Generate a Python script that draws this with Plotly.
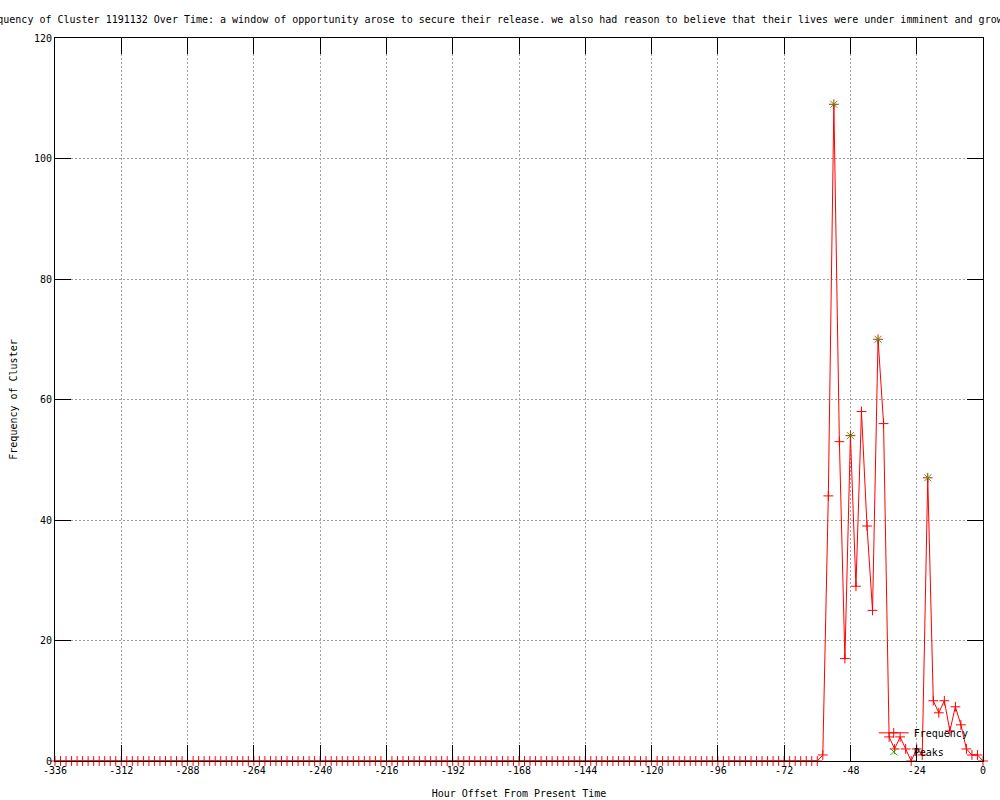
import plotly.graph_objects as go

# ---- data ----
hours = list(range(-336, 2, 2))  # sampling every 2 hours, -336 .. 0

freq = [
    0, 0, 0, 0, 0, 0, 0, 0, 0, 0, 0, 0, 0, 0, 0, 0, 0, 0, 0, 0,
    0, 0, 0, 0, 0, 0, 0, 0, 0, 0, 0, 0, 0, 0, 0, 0, 0, 0, 0, 0,
    0, 0, 0, 0, 0, 0, 0, 0, 0, 0, 0, 0, 0, 0, 0, 0, 0, 0, 0, 0,
    0, 0, 0, 0, 0, 0, 0, 0, 0, 0, 0, 0, 0, 0, 0, 0, 0, 0, 0, 0,
    0, 0, 0, 0, 0, 0, 0, 0, 0, 0, 0, 0, 0, 0, 0, 0, 0, 0, 0, 0,
    0, 0, 0, 0, 0, 0, 0, 0, 0, 0, 0, 0, 0, 0, 0, 0, 0, 0, 0, 0,
    0, 0, 0, 0, 0, 0, 0, 0, 0, 0, 0, 0, 0, 0, 0, 0, 0, 0, 0,
    # -58 .. 0
    1, 44, 109, 53, 17, 54, 29, 58, 39, 25, 70, 56, 4, 2, 4, 2, 0, 2, 1, 47,
    10, 8, 10, 5, 9, 6, 2, 1, 1, 0,
]

peak_hours = [-54, -48, -38, -20]
peak_values = [109, 54, 70, 47]

x_tick_vals = [-336, -312, -288, -264, -240, -216, -192, -168, -144, -120, -96, -72, -48, -24, 0]
x_tick_labels = ["-336", "-312", "-288", "-264", "-240", "-216", "-192", "-168", "-144",
                 "-120", "-96", "-72", "-48", "-24", "0"]
y_tick_vals = [0, 20, 40, 60, 80, 100, 120]

title_text = ("Frequency of Cluster 1191132 Over Time: a window of opportunity arose to secure "
              "their release. we also had reason to believe that their lives were under imminent and growing")

FONT = "DejaVu Sans Mono"
RED = "#ff0000"
GREEN = "#00c000"

fig = go.Figure()
fig.add_trace(go.Scatter(
    x=hours, y=freq, mode="lines+markers", name="Frequency",
    line=dict(color=RED, width=1),
    marker=dict(symbol="cross-thin", size=7, line=dict(color=RED, width=1), color=RED),
    cliponaxis=False,
))
fig.add_trace(go.Scatter(
    x=peak_hours, y=peak_values, mode="markers", name="Peaks",
    marker=dict(symbol="x-thin", size=7, line=dict(color=GREEN, width=1), color=GREEN),
    cliponaxis=False,
))

axis_common = dict(
    showline=True, linecolor="black", linewidth=1, mirror="ticks",
    ticks="inside", ticklen=16, tickwidth=1, tickcolor="black",
    showgrid=True, gridcolor="#a0a0a0", gridwidth=1, griddash="2px,2px",
    zeroline=False,
    tickfont=dict(family=FONT, size=10, color="black"),
    title_font=dict(family=FONT, size=10, color="black"),
)

fig.update_xaxes(
    range=[-336, 0], tickmode="array", tickvals=x_tick_vals, ticktext=x_tick_labels,
    title_text="Hour Offset From Present Time", title_standoff=14,
    **axis_common,
)
fig.update_yaxes(
    range=[0, 120], tickmode="array", tickvals=y_tick_vals,
    title_text="Frequency of Cluster", title_standoff=14,
    **axis_common,
)

fig.update_layout(
    width=1000, height=800,
    margin=dict(l=55, r=17, t=38, b=39, autoexpand=False),
    paper_bgcolor="white", plot_bgcolor="white",
    font=dict(family=FONT, size=10, color="black"),
    title=dict(text=title_text, x=0.5, xref="container", xanchor="center",
               y=1 - 19 / 800, yref="container", yanchor="middle",
               font=dict(family=FONT, size=10, color="black")),
    showlegend=True,
    legend=dict(x=0.99, y=0.059, xanchor="right", yanchor="top",
                bgcolor="rgba(0,0,0,0)", borderwidth=0,
                font=dict(family=FONT, size=10, color="black"),
                tracegroupgap=0),
)

fig.write_html("out.html", config={"displayModeBar": False},
               post_script="document.body.style.margin='0px';")
